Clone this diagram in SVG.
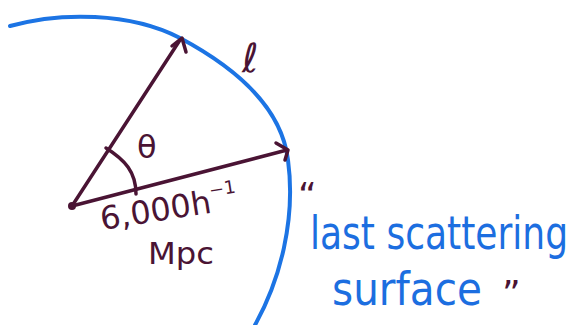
<svg xmlns="http://www.w3.org/2000/svg" width="585" height="325" viewBox="0 0 585 325">
<style>
.m{stroke:#4a1434;stroke-width:3.5;fill:none;stroke-linecap:round;stroke-linejoin:round}
.b{stroke:#1c74e4;stroke-width:4;fill:none;stroke-linecap:round}
.tm{fill:#4a1434;font-family:"DejaVu Sans",sans-serif}
.tb{fill:#1c6ee0;font-family:"DejaVu Sans",sans-serif}
</style>
<rect width="585" height="325" fill="#fff"/>
<g id="surface-arc">
<path class="b" d="M10,26 C60,12 130,12 180,38 C240,70 282,110 288,160 C296,220 280,280 255,325"/>
</g>
<g id="connectors">
<path class="m" d="M72,206 L180,40"/>
<path class="m" d="M172,46 L182,38 L186,52"/>
<path class="m" d="M72,206 L287,150"/>
<path class="m" d="M276,143 L288,150 L285,160"/>
<path class="m" d="M106,148 C125,160 136,172 136,194"/>
<circle cx="72" cy="206" r="4" fill="#4a1434"/>
</g>
<g id="labels">
<text class="tm" x="137" y="158" font-size="32">θ</text>
<text class="tm" x="242" y="72" font-size="40" font-style="italic">ℓ</text>
<text class="tm" x="102" y="230" font-size="32" transform="rotate(-9 102 230)">6,000h<tspan font-size="18" dy="-16">−1</tspan></text>
<text class="tm" x="148" y="264" font-size="30" textLength="66" lengthAdjust="spacingAndGlyphs">Mpc</text>
<text class="tm" x="298" y="208" font-size="36">“</text>
<text class="tb" x="0" y="0" font-size="36" transform="translate(310 249) scale(1 1.28)" textLength="258" lengthAdjust="spacingAndGlyphs">last scattering</text>
<text class="tb" x="332" y="305" font-size="46" textLength="150" lengthAdjust="spacingAndGlyphs">surface</text>
<text class="tm" x="502" y="306" font-size="36">”</text>
</g>
</svg>
